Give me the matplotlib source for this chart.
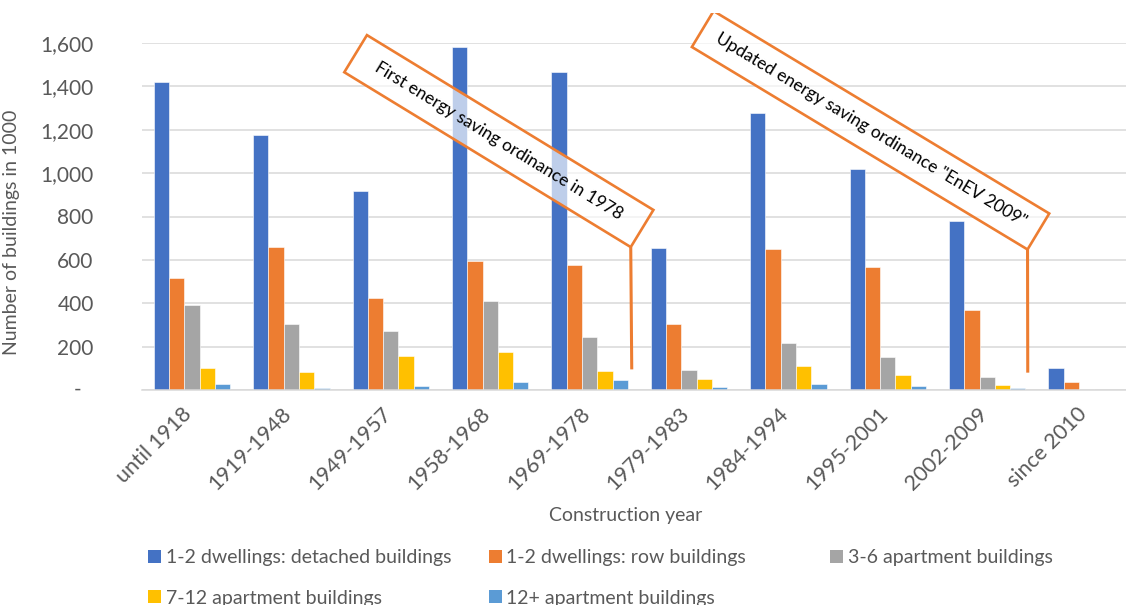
import matplotlib
matplotlib.use("Agg")
import matplotlib.pyplot as plt
from matplotlib import transforms
from matplotlib.patches import Polygon, Patch
import numpy as np

plt.rcParams['font.family'] = ['Lato', 'DejaVu Sans']

periods = ["until 1918", "1919-1948", "1949-1957", "1958-1968", "1969-1978",
           "1979-1983", "1984-1994", "1995-2001", "2002-2009", "since 2010"]
series_names = ["1-2 dwellings: detached buildings", "1-2 dwellings: row buildings",
                "3-6 apartment buildings", "7-12 apartment buildings",
                "12+ apartment buildings"]
detached = [1420, 1174, 916, 1583, 1465, 655, 1279, 1017, 781, 101]
row = [516, 661, 424, 593, 575, 303, 652, 566, 369, 38]
apt_3_6 = [392, 304, 270, 412, 246, 91, 217, 151, 61, 4]
apt_7_12 = [101, 81, 155, 174, 89, 51, 111, 68, 22, 1]
apt_12_plus = [28, 8, 17, 35, 45, 15, 28, 18, 8, 1]
colors = ["#4472C4", "#ED7D31", "#A5A5A5", "#FFC000", "#5B9BD5"]

# callouts: text, period index of the pointer tip, value at the tip
notes = ["First energy saving ordinance in 1978",
         'Updated energy saving ordinance "EnEV 2009"']
note_x = [4.424, 8.408]
note_y = [95, 80]

TEXT = "#595959"
GRID = "#D9D9D9"
W, H = 1126, 605

fig = plt.figure(figsize=(W / 100, H / 100), dpi=100)
ax = fig.add_axes([142.3 / W, (H - 390) / H, (W - 142.3) / W, 347 / H])

x = np.arange(len(periods))
bw = 0.154
all_series = [detached, row, apt_3_6, apt_7_12, apt_12_plus]
for i, (vals, c) in enumerate(zip(all_series, colors)):
    ax.bar(x + (i - 2) * bw, vals, bw, color=c, edgecolor="white",
           linewidth=0.4, zorder=2)

ax.set_xlim(-0.5, -0.5 + (W - 142.3) / 99.4)
ax.set_ylim(0, 1600)
ax.set_yticks(np.arange(0, 1601, 200))
# zero is shown as a dash, drawn separately below
ax.set_yticklabels([""] + [f"{v:,}" for v in range(200, 1601, 200)])
ax.grid(axis="y", color=GRID, linewidth=1.1, zorder=0)
for s in ["top", "right", "left"]:
    ax.spines[s].set_visible(False)
ax.spines["bottom"].set_color(GRID)
ax.spines["bottom"].set_linewidth(1.1)
ax.tick_params(axis="y", length=0, pad=35, labelsize=15, labelcolor=TEXT)
ax.tick_params(axis="x", length=0, pad=15, labelsize=15.5, labelcolor=TEXT)
ax.set_xticks(x)
ax.set_xticklabels(periods, rotation=45, ha="right", rotation_mode="anchor",
                   va="center")
shift = transforms.ScaledTranslation(-3 / 100, 0, fig.dpi_scale_trans)
for lab in ax.get_xticklabels():
    lab.set_transform(lab.get_transform() + shift)
ax.text((81 - 142.3) / (W - 142.3), 0, "-", transform=ax.transAxes,
        ha="right", va="center", fontsize=15, color=TEXT)

ax.set_ylabel("Number of buildings in 1000", fontsize=14, color=TEXT)
ax.yaxis.set_label_coords((20 - 142.3) / (W - 142.3), (390 - 232) / 347)
ax.set_xlabel("Construction year", fontsize=14, color=TEXT)
ax.xaxis.set_label_coords((626 - 142.3) / (W - 142.3), (390 - 515) / 347)
ax.xaxis.label.set_verticalalignment("center")

# rotated callout boxes with a pointer line down to the tip (pixel offsets)
boxes = [dict(c=(-132.9, 228.3), L=335.6, Hh=43.5, a=31.4, fs=12.5),
         dict(c=(-157.2, 242.4), L=392.0, Hh=42.0, a=31.1, fs=12.5)]
clip = transforms.Bbox([[0, 0], [W, H - 13]])
for txt, tx, ty, b in zip(notes, note_x, note_y, boxes):
    trans = (transforms.Affine2D().scale(1 / 100) + fig.dpi_scale_trans
             + transforms.ScaledTranslation(tx, ty, ax.transData))
    a = np.radians(b["a"])
    u = np.array([np.cos(a), -np.sin(a)])
    n = np.array([np.sin(a), np.cos(a)])
    c = np.array(b["c"])
    hl, hh = b["L"] / 2, b["Hh"] / 2
    verts = [c - u * hl + n * hh, c + u * hl + n * hh,
             c + u * hl - n * hh, c - u * hl - n * hh]
    corner = verts[2]
    ax.plot([corner[0], 0], [corner[1], 0], color="#ED7D31", lw=2.2,
            transform=trans, clip_on=False, zorder=4, solid_capstyle="butt")
    poly = Polygon(verts, closed=True, facecolor=(1, 1, 1, 0.66),
                   edgecolor="#ED7D31", linewidth=1.9, transform=trans,
                   zorder=5, clip_on=True)
    ax.add_patch(poly)
    poly.set_clip_box(clip)
    ax.text(c[0], c[1], txt, transform=trans, rotation=-b["a"],
            rotation_mode="anchor", ha="center", va="center",
            fontsize=b["fs"], color="black", zorder=6)

# legend laid out in three columns
cols = [(148, [0, 3]), (489, [1, 4]), (830, [2])]
for left, idx in cols:
    handles = [Patch(facecolor=colors[k], edgecolor="none") for k in idx]
    fig.legend(handles, [series_names[k] for k in idx], loc="upper left",
               bbox_to_anchor=(left / W, 1 - 549 / H), frameon=False,
               fontsize=14, labelcolor=TEXT, handlelength=0.65,
               handleheight=0.65, handletextpad=0.25, labelspacing=1.22,
               borderpad=0, borderaxespad=0)

fig.savefig("out.png", dpi=100)
